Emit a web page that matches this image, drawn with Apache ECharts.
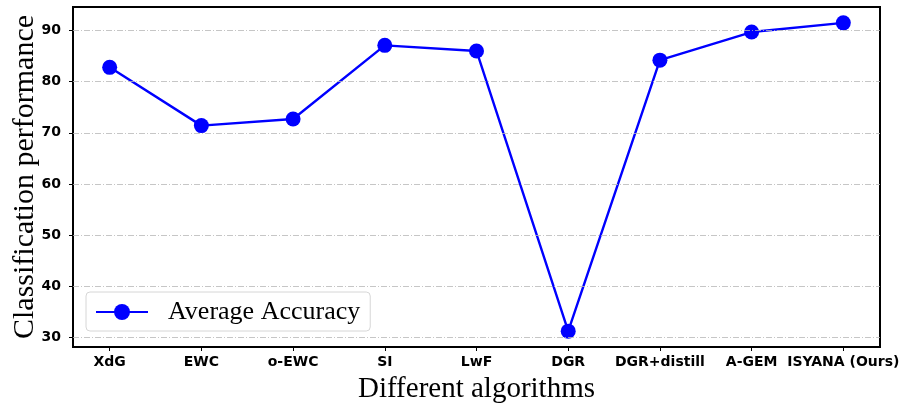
<!DOCTYPE html>
<html><head><meta charset="utf-8">
<script src="https://cdn.jsdelivr.net/npm/echarts@6/dist/echarts.min.js"></script>
<style>html,body{margin:0;padding:0;background:#fff}#c{width:904px;height:405px}</style>
</head><body><div id="c"></div>
<script>
const categories = ['XdG','EWC','o-EWC','SI','LwF','DGR','DGR+distill','A-GEM','ISYANA (Ours)'];
const accuracy = [82.8, 71.4, 72.7, 87.1, 86.0, 31.2, 84.2, 89.7, 91.5];
const yTicks = [30, 40, 50, 60, 70, 80, 90];
const seriesName = 'Average Accuracy';

const xIdx = categories.map((_, i) => i);
const pts = accuracy.map((v, i) => [i, v]);
const chart = echarts.init(document.getElementById('c'), null, {renderer: 'canvas'});
chart.setOption({
  animation: false,
  grid: {left: 73, right: 24, top: 7, bottom: 58, containLabel: false, outerBoundsMode: 'none', show: true, borderColor: '#000', borderWidth: 2, backgroundColor: 'transparent'},
  xAxis: {
    type: 'value', min: -0.4, max: 8.4,
    name: 'Different algorithms', nameLocation: 'middle', nameGap: 28,
    nameTextStyle: {fontFamily: 'Liberation Serif', fontSize: 29, color: '#000'},
    axisLine: {show: true, onZero: false, lineStyle: {color: '#000', width: 2}},
    axisTick: {show: true, customValues: xIdx, length: 4, lineStyle: {color: '#000', width: 1}},
    axisLabel: {customValues: xIdx, formatter: v => categories[Math.round(v)], fontFamily: 'DejaVu Sans', fontWeight: 'bold', fontSize: 14, color: '#000', margin: 8},
    splitLine: {show: false}
  },
  yAxis: {
    type: 'value', min: 28.1, max: 94.6,
    name: 'Classification performance', nameLocation: 'middle', nameGap: 33, nameMoveOverlap: false,
    nameTextStyle: {fontFamily: 'Liberation Serif', fontSize: 30, color: '#000'},
    axisLine: {show: true, onZero: false, lineStyle: {color: '#000', width: 2}},
    axisTick: {show: true, customValues: yTicks, length: 4, lineStyle: {color: '#000', width: 1}},
    axisLabel: {customValues: yTicks, fontFamily: 'DejaVu Sans', fontWeight: 'bold', fontSize: 14, color: '#000', margin: 12},
    splitLine: {show: false}
  },
  legend: {
    left: 86, top: 292, padding: [7, 10, 6, 9],
    backgroundColor: '#fff', borderColor: '#d6d6d6', borderWidth: 1, borderRadius: 4,
    itemWidth: 52, itemHeight: 20,
    textStyle: {fontFamily: 'Liberation Serif', fontSize: 26, color: '#000', padding: [0, 0, 0, 15]},
    data: [seriesName]
  },
  series: [
    {
      type: 'line', data: pts, silent: true, z: 1, symbol: 'none',
      lineStyle: {opacity: 0}, tooltip: {show: false},
      markLine: {
        silent: true, symbol: 'none', label: {show: false},
        lineStyle: {color: '#b8b8b8', width: 0.8, type: [6, 2, 1, 2]},
        data: yTicks.map(v => ({yAxis: v}))
      }
    },
    {
      name: seriesName, type: 'line', data: pts, z: 3,
      symbol: 'circle', symbolSize: 15,
      itemStyle: {color: '#0000ff'},
      lineStyle: {color: '#0000ff', width: 2.4}
    }
  ]
});
</script></body></html>
